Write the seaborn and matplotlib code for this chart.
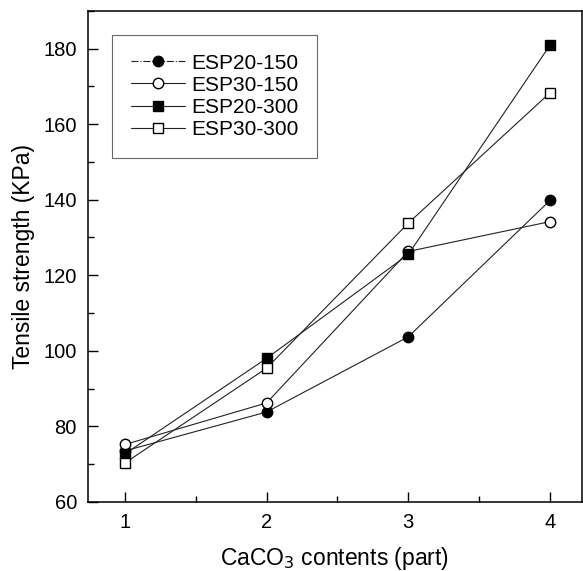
import pandas as pd
import matplotlib.pyplot as plt
import seaborn as sns
from matplotlib.ticker import MultipleLocator

# values
caco3 = [1, 2, 3, 4]
esp20_150 = [73.5, 83.8, 103.7, 139.8]
esp30_150 = [75.2, 86.2, 126.3, 134.2]
esp20_300 = [72.7, 98.0, 125.5, 180.9]
esp30_300 = [70.3, 95.4, 133.8, 168.3]
labels = ["ESP20-150", "ESP30-150", "ESP20-300", "ESP30-300"]

df = pd.DataFrame({
    "CaCO3": caco3 * 4,
    "strength": esp20_150 + esp30_150 + esp20_300 + esp30_300,
    "sample": [l for l in labels for _ in caco3],
})

sns.set_style("ticks")
plt.rcParams["font.family"] = ["Liberation Sans", "DejaVu Sans"]
plt.rcParams["text.color"] = "black"
plt.rcParams["axes.labelcolor"] = "black"
plt.rcParams["xtick.color"] = "black"
plt.rcParams["ytick.color"] = "black"

fig = plt.figure(figsize=(5.83, 5.71), dpi=100)
ax = fig.add_axes([0.151, 0.121, 0.847, 0.86])

markers = {"ESP20-150": "o", "ESP30-150": "o", "ESP20-300": "s", "ESP30-300": "s"}
faces = {"ESP20-150": "black", "ESP30-150": "white", "ESP20-300": "black", "ESP30-300": "white"}

for name in labels:
    sns.lineplot(data=df[df["sample"] == name], x="CaCO3", y="strength", ax=ax,
                 color="#222222", lw=0.8, marker=markers[name], markersize=7.5,
                 markerfacecolor=faces[name], markeredgecolor="black",
                 markeredgewidth=1.0, label=name)

ax.set_xlim(0.74, 4.225)
ax.set_ylim(60, 190)
ax.set_xticks(caco3)
ax.xaxis.set_minor_locator(MultipleLocator(0.5))
ax.set_yticks([60, 80, 100, 120, 140, 160, 180])
ax.yaxis.set_minor_locator(MultipleLocator(10))
ax.tick_params(which="both", direction="in", labelsize=14.5, width=1.0)
ax.tick_params(which="major", length=7)
ax.tick_params(which="minor", length=4)
ax.tick_params(axis="y", pad=8)
ax.tick_params(axis="x", pad=8)
for s in ax.spines.values():
    s.set_linewidth(1.1)
    s.set_color("black")

ax.set_xlabel("CaCO$_3$ contents (part)", fontsize=16.5, labelpad=9)
ax.set_ylabel("Tensile strength (KPa)", fontsize=16.5, labelpad=6)

leg = ax.legend(loc="upper left", fontsize=15, frameon=True, fancybox=False,
                borderpad=0.9, labelspacing=0.15, handlelength=2.6,
                handletextpad=0.3, borderaxespad=1.15)
leg.get_frame().set_edgecolor("#444444")
leg.get_frame().set_linewidth(0.8)
leg.legend_handles[0].set_linestyle("-.")

plt.savefig("out.png", dpi=100)
